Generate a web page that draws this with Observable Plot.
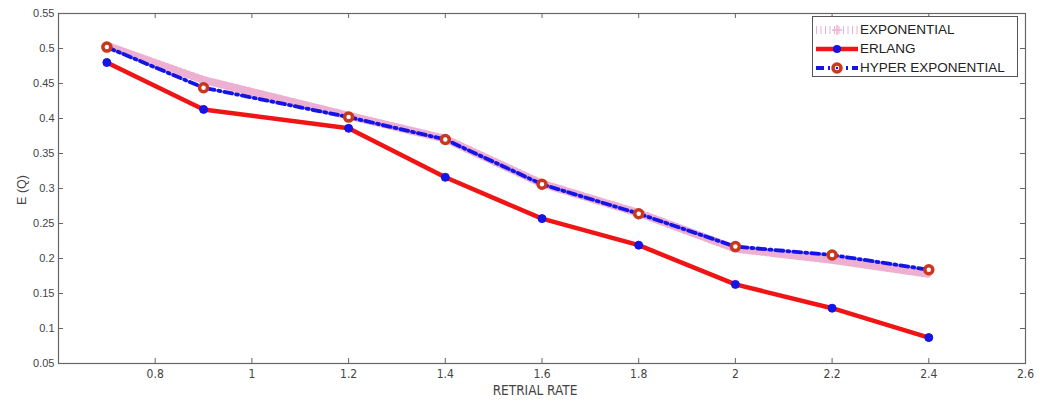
<!DOCTYPE html>
<html>
<head>
<meta charset="utf-8">
<script src="https://cdn.jsdelivr.net/npm/d3@7"></script>
<script src="https://cdn.jsdelivr.net/npm/@observablehq/plot@0.6"></script>
<style>
  html, body { margin: 0; padding: 0; background: #fff; }
  #wrap { position: relative; width: 1040px; height: 405px; overflow: hidden; }
  #legend {
    position: absolute; left: 812px; top: 16px; width: 206px; height: 61px;
    border: 1px solid #555; background: #fff; box-sizing: border-box;
    font-family: "Liberation Sans", Arial, sans-serif; font-size: 13.5px; color: #222;
    padding-top: 3px;
  }
  #legend .row { display: flex; align-items: center; height: 19px; }
  #legend svg { display: block; margin-left: 2px; margin-right: 0px; }
  .title { position: absolute; color: #444; font-size: 13.5px; white-space: nowrap; }
  #xtitle { left: 0; width: 1070px; text-align: center; top: 382px;
            font-family: "Liberation Sans Narrow", "DejaVu Sans Condensed", sans-serif; }
  #ytitle { left: 22px; top: 190px; transform: translate(-50%, -50%) rotate(-90deg);
            font-family: "Liberation Sans", Arial, sans-serif; font-size: 12.5px; }
</style>
</head>
<body>
<div id="wrap"></div>
<script>
// ---- data ----
const retrialRate = [0.7, 0.9, 1.2, 1.4, 1.6, 1.8, 2.0, 2.2, 2.4];
const exponential = [0.504, 0.455, 0.404, 0.371, 0.307, 0.265, 0.214, 0.198, 0.178];
const erlang = [0.480, 0.413, 0.386, 0.316, 0.257, 0.219, 0.163, 0.129, 0.087];
const hyperExponential = [0.502, 0.444, 0.402, 0.370, 0.306, 0.264, 0.217, 0.205, 0.184];
const seriesNames = ["EXPONENTIAL", "ERLANG", "HYPER EXPONENTIAL"];
const xTicks = [0.8, 1.0, 1.2, 1.4, 1.6, 1.8, 2.0, 2.2, 2.4, 2.6];
const yTicks = [0.05, 0.1, 0.15, 0.2, 0.25, 0.3, 0.35, 0.4, 0.45, 0.5, 0.55];
const xLabel = "RETRIAL RATE";
const yLabel = "E (Q)";

// ---- styles ----
const PINK = "#eeb0d2", RED = "#f01414", BLUE = "#1414e6", BROWN = "#c8381c";
const AXIS = "#666";
const PINK_DASH = "1,3.5", BLUE_DASH = "8,4,2,4";

const rows = (vals) => retrialRate.map((x, i) => ({x, y: vals[i]}));
const expData = rows(exponential);
const erlData = rows(erlang);
const hypData = rows(hyperExponential);

const W = 1040, H = 405, mL = 58, mR = 15, mT = 13, mB = 42;
const innerW = W - mL - mR, innerH = H - mT - mB;

const fmt = d => String(+d.toFixed(2));

const chart = Plot.plot({
  width: W, height: H,
  marginLeft: mL, marginRight: mR, marginTop: mT, marginBottom: mB,
  style: { background: "#fff", overflow: "visible" },
  x: { domain: [0.6, 2.6] },
  y: { domain: [0.05, 0.55] },
  marks: [
    Plot.frame({ stroke: AXIS, strokeWidth: 1.2 }),
    // inward ticks on all four sides
    Plot.ruleX(xTicks, { x: d => d, stroke: AXIS, insetTop: innerH - 5 }),
    Plot.ruleX(xTicks, { x: d => d, stroke: AXIS, insetBottom: innerH - 5 }),
    Plot.ruleY(yTicks, { y: d => d, stroke: AXIS, insetRight: innerW - 5 }),
    Plot.ruleY(yTicks, { y: d => d, stroke: AXIS, insetLeft: innerW - 5 }),
    Plot.axisX(xTicks, {
      tickSize: 0, tickPadding: 6, tickFormat: fmt,
      fontSize: 12, fill: "#444",
      fontFamily: "'Liberation Sans Narrow', 'DejaVu Sans Condensed', sans-serif",
      label: null
    }),
    Plot.axisY(yTicks, {
      tickSize: 0, tickPadding: 4, tickFormat: fmt,
      fontSize: 11, fill: "#444",
      fontFamily: "'Liberation Sans', Arial, sans-serif",
      label: null
    }),
    // EXPONENTIAL: pink thick dotted hatch
    Plot.line(expData, { x: "x", y: "y", stroke: PINK, strokeWidth: 8, strokeDasharray: PINK_DASH }),
    // ERLANG: red solid with blue dots
    Plot.line(erlData, { x: "x", y: "y", stroke: RED, strokeWidth: 4.5 }),
    Plot.dot(erlData, { x: "x", y: "y", r: 4, fill: BLUE, stroke: BLUE, strokeWidth: 1 }),
    // HYPER EXPONENTIAL: blue dash-dot with brown-red circles
    Plot.line(hypData, { x: "x", y: "y", stroke: BLUE, strokeWidth: 3.8, strokeDasharray: BLUE_DASH }),
    Plot.dot(hypData, { x: "x", y: "y", r: 4, fill: "#fff", stroke: BROWN, strokeWidth: 3.5 })
  ]
});

const wrap = document.getElementById("wrap");
wrap.appendChild(chart);

// ---- axis titles ----
const xt = document.createElement("div");
xt.className = "title"; xt.id = "xtitle"; xt.textContent = xLabel;
wrap.appendChild(xt);
const yt = document.createElement("div");
yt.className = "title"; yt.id = "ytitle"; yt.textContent = yLabel;
wrap.appendChild(yt);

// ---- legend ----
const legend = document.createElement("div");
legend.id = "legend";
const samples = [
  `<line x1="1" y1="10" x2="43" y2="10" stroke="${PINK}" stroke-width="8" stroke-dasharray="${PINK_DASH}"/>
   <path d="M22,5 V15 M17,10 H27" stroke="${PINK}" stroke-width="1.5"/>`,
  `<line x1="1" y1="10" x2="43" y2="10" stroke="${RED}" stroke-width="4.5"/>
   <circle cx="22" cy="10" r="4" fill="${BLUE}"/>`,
  `<line x1="1" y1="10" x2="43" y2="10" stroke="${BLUE}" stroke-width="3.8" stroke-dasharray="${BLUE_DASH}"/>
   <circle cx="22" cy="10" r="4" fill="#fff" stroke="${BROWN}" stroke-width="3.5"/>
   <circle cx="22" cy="10" r="1.2" fill="${BLUE}"/>`
];
seriesNames.forEach((name, i) => {
  const row = document.createElement("div");
  row.className = "row";
  row.innerHTML = `<svg width="45" height="20">${samples[i]}</svg><span>${name}</span>`;
  legend.appendChild(row);
});
wrap.appendChild(legend);
</script>
</body>
</html>
